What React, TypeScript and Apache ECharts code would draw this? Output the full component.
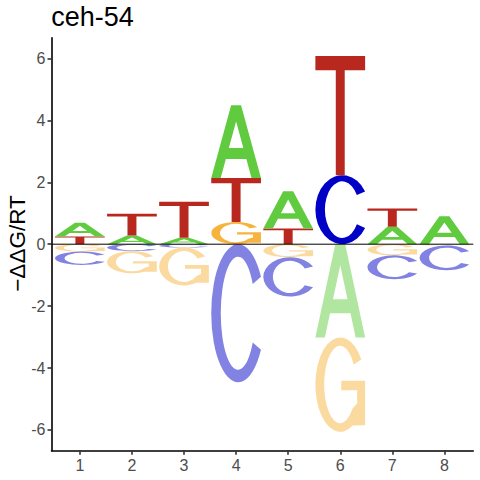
import React, { useEffect, useRef } from "react";
import * as echarts from "echarts";

// ---- data ----
const POSITIONS = [1, 2, 3, 4, 5, 6, 7, 8];
const BASES = ["A", "C", "G", "T"];
// -ΔΔG/RT per base at each position (positive: above baseline, negative: below)
const A_DDG = [0.45, 0.28, 0.21, 2.35, 1.2, -3.01, 0.56, 0.9];
const C_DDG = [-0.43, -0.22, -0.11, -4.46, -1.27, 2.23, -0.77, -0.8];
const G_DDG = [-0.24, -0.72, -1.22, 0.72, -0.42, -3.05, -0.36, -0.04];
const T_DDG = [0.245, 0.7, 1.16, 1.42, 0.51, 3.85, 0.59, 0];
const X_TICKS = [1, 2, 3, 4, 5, 6, 7, 8];
const Y_TICKS = [-6, -4, -2, 0, 2, 4, 6];
const TITLE = "ceh-54";
const Y_TITLE = "\u2212\u0394\u0394G/RT";

// ---- styling / layout ----
const X_MIN = 0.455;
const X_MAX = 8.555;
const Y_MIN = -6.67;
const Y_MAX = 6.67;
const LETTER_W = 0.955;
const FONT = "'Liberation Sans', Arial, sans-serif";

const BASE_COLORS: Record<string, string> = {
  A: "#60CB3F",
  C: "#0000C6",
  G: "#F6B33D",
  T: "#B9281F",
};

const GLYPHS: Record<string, string> = {
  A: "M0 100 L40 0 L60 0 L100 100 L81 100 L70.6 74 L29.4 74 L19 100 Z M35.4 59 L64.6 59 L50 22.5 Z",
  C: "M92.4 23.5 A50 50 0 1 0 92.4 76.5 L77.1 71.2 A32 41 0 1 1 77.1 28.8 Z",
  G: "M92.4 23.5 A50 50 0 1 0 75 93.3 L100 93 L100 46 L52 46 L52 56 L84 56 L84 70 L74.5 75.7 A32 41 0 1 1 77.1 28.8 Z",
  T: "M0 0 L100 0 L100 12 L59 12 L59 100 L41 100 L41 12 L0 12 Z",
};

function lighten(hex: string, a: number): string {
  const n = parseInt(hex.slice(1), 16);
  const r = (n >> 16) & 255;
  const g = (n >> 8) & 255;
  const b = n & 255;
  const mix = (c: number) => Math.round(c * a + 255 * (1 - a));
  return `rgb(${mix(r)},${mix(g)},${mix(b)})`;
}

function buildData() {
  const table: Record<string, number[]> = { A: A_DDG, C: C_DDG, G: G_DDG, T: T_DDG };
  const out: number[][] = [];
  POSITIONS.forEach((pos, i) => {
    const vals = BASES.map((b, bi) => ({ bi, v: table[b][i] })).filter((d) => d.v !== 0);
    const pos_ = vals.filter((d) => d.v > 0).sort((a, b) => a.v - b.v);
    const neg_ = vals.filter((d) => d.v < 0).sort((a, b) => b.v - a.v);
    let acc = 0;
    pos_.forEach((d) => {
      out.push([pos, acc, acc + d.v, d.bi, 0]);
      acc += d.v;
    });
    acc = 0;
    neg_.forEach((d) => {
      out.push([pos, acc, acc + d.v, d.bi, 1]);
      acc += d.v;
    });
  });
  return out;
}

function buildOption(): any {
  const data = buildData();
  const axisLabel = { color: "#4D4D4D", fontSize: 16, fontFamily: FONT };
  return {
    animation: false,
    backgroundColor: "#FFFFFF",
    grid: { left: 51.5, right: 6.7, top: 37.7, bottom: 29.3, containLabel: false, outerBoundsMode: "none" },
    xAxis: {
      type: "value",
      min: X_MIN,
      max: X_MAX,
      axisLine: { show: true, onZero: false, lineStyle: { color: "#000", width: 1.6 } },
      axisTick: { show: true, customValues: X_TICKS, length: 4, lineStyle: { color: "#333", width: 1.6 } },
      axisLabel: { ...axisLabel, margin: 7, customValues: X_TICKS },
      splitLine: { show: false },
    },
    yAxis: {
      type: "value",
      min: Y_MIN,
      max: Y_MAX,
      axisLine: { show: true, onZero: false, lineStyle: { color: "#000", width: 1.6 } },
      axisTick: { show: true, customValues: Y_TICKS, length: 4, lineStyle: { color: "#333", width: 1.6 } },
      axisLabel: { ...axisLabel, margin: 6, customValues: Y_TICKS },
      splitLine: { show: false },
    },
    series: [
      {
        type: "custom",
        silent: true,
        encode: { x: 0, y: [1, 2] },
        data,
        renderItem: (_params: any, api: any) => {
          const x = api.value(0);
          const y0 = api.value(1);
          const y1 = api.value(2);
          const bi = api.value(3);
          const neg = api.value(4);
          const base = BASES[bi];
          const p0 = api.coord([x - LETTER_W / 2, Math.max(y0, y1)]);
          const p1 = api.coord([x + LETTER_W / 2, Math.min(y0, y1)]);
          const fill = neg ? lighten(BASE_COLORS[base], 0.49) : BASE_COLORS[base];
          return {
            type: "path",
            shape: {
              pathData: GLYPHS[base],
              x: p0[0],
              y: p0[1],
              width: p1[0] - p0[0],
              height: p1[1] - p0[1],
              layout: "cover",
            },
            style: { fill },
          };
        },
        z: 2,
      },
      {
        type: "line",
        silent: true,
        symbol: "none",
        data: [
          [X_MIN, 0],
          [X_MAX, 0],
        ],
        lineStyle: { color: "#000", width: 1 },
        z: 5,
      },
    ],
    graphic: [
      {
        type: "text",
        x: 51.3,
        y: 17.3,
        style: {
          text: TITLE,
          fontSize: 27,
          fontFamily: FONT,
          fill: "#000",
          textAlign: "left",
          align: "left",
          textVerticalAlign: "middle",
          verticalAlign: "middle",
        },
      },
      {
        type: "text",
        x: 17,
        y: 243.5,
        rotation: Math.PI / 2,
        style: {
          text: Y_TITLE,
          fontSize: 22.5,
          fontFamily: FONT,
          fill: "#000",
          textAlign: "center",
          align: "center",
          textVerticalAlign: "middle",
          verticalAlign: "middle",
        },
      },
    ],
  };
}

export default function App() {
  const ref = useRef<HTMLDivElement>(null);
  useEffect(() => {
    if (!ref.current) return;
    const chart = echarts.init(ref.current, undefined, { renderer: "svg" });
    chart.setOption(buildOption());
    return () => chart.dispose();
  }, []);
  return (
    <div
      ref={ref}
      style={{ position: "fixed", left: 0, top: 0, width: 480, height: 480, background: "#fff" }}
    />
  );
}
